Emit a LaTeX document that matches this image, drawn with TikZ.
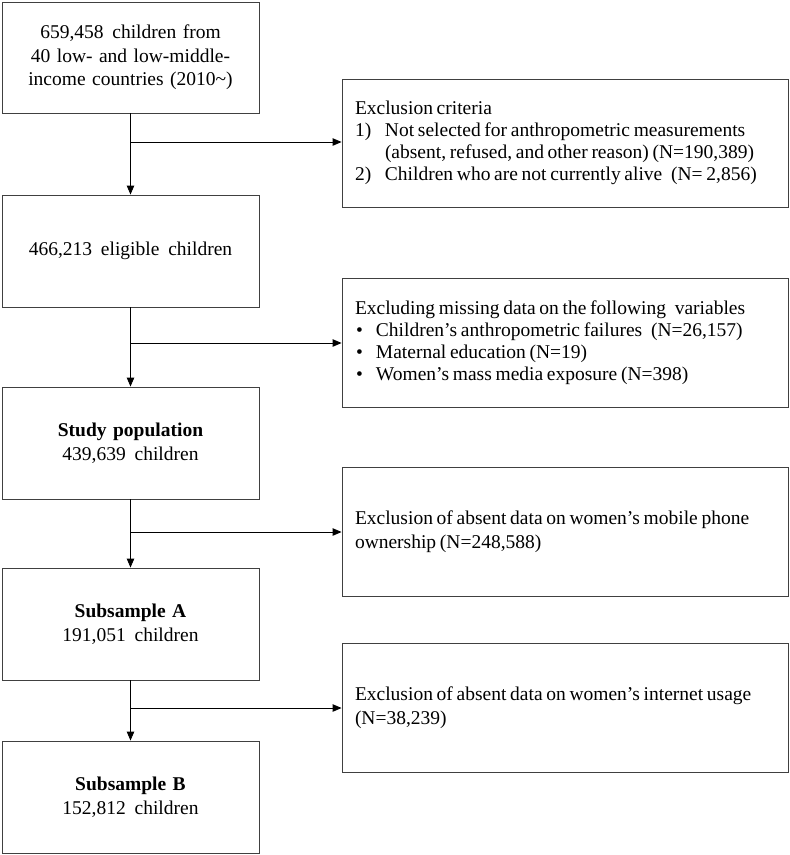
\documentclass[tikz,border=0pt]{standalone}
\usepackage{fontspec}
\setmainfont{Liberation Serif}
\usetikzlibrary{arrows.meta}
\tikzset{
  lbox/.style={draw=black!75, line width=0.9pt, minimum width=257pt, text width=240pt, inner xsep=8.5pt, inner ysep=0pt, align=center, font=\fontsize{19.5}{23.5}\selectfont},
  rbox/.style={draw=black!75, line width=0.9pt, minimum width=446pt, text width=420pt, inner xsep=13pt, inner ysep=0pt, align=left, font=\fontsize{19.5}{22}\selectfont},
  rboxb/.style={rbox, font=\fontsize{19.5}{24}\selectfont},
  arr/.style={draw=black, line width=0.9pt, -{Triangle[length=9pt,width=7.5pt]}},
}
\newcommand{\numlab}[1]{\makebox[30pt][l]{#1}}
\newcommand{\bul}{\makebox[21pt][l]{\hspace{1pt}•}}
\newcommand{\wsp}{\hspace{0.45em}}
\newcommand{\tightsp}{\spaceskip=0.19em plus 0.05em minus 0.02em\relax}
\begin{document}
\begin{tikzpicture}[x=1pt,y=-1pt]
\useasboundingbox (0,0) rectangle (790,855);
% left column
\node[lbox, minimum height=111pt] (L1) at (130.5,57.5) {659,458\wsp children from\\40 low- and low-middle-\\income countries (2010\textasciitilde)};
\node[lbox, minimum height=112pt] (L2) at (130.5,251) {466,213\wsp eligible\wsp children};
\node[lbox, minimum height=112pt, font=\fontsize{19.5}{24}\selectfont] (L3) at (130.5,443) {\textbf{Study population}\\439,639\wsp children};
\node[lbox, minimum height=112pt, font=\fontsize{19.5}{24}\selectfont] (L4) at (130.5,624) {\textbf{Subsample A}\\191,051\wsp children};
\node[lbox, minimum height=112pt, font=\fontsize{19.5}{24}\selectfont] (L5) at (130.5,797) {\textbf{Subsample B}\\152,812\wsp children};
% right column
\node[rbox, minimum height=128pt] (R1) at (565,143) {\tightsp\mbox{Exclusion criteria}\\\numlab{1)}\mbox{Not selected for anthropometric measurements}\\\hspace*{30pt}\mbox{(absent, refused, and other reason) (N=190,389)}\\\numlab{2)}\mbox{Children who are not currently alive\wsp(N= 2,856)}};
\node[rbox, minimum height=129pt] (R2) at (565,342.5) {\tightsp\mbox{Excluding missing data on the following\wsp variables}\\\bul\mbox{Children’s anthropometric failures\wsp(N=26,157)}\\\bul\mbox{Maternal education (N=19)}\\\bul\mbox{Women’s mass media exposure (N=398)}};
\node[rboxb, minimum height=129pt] (R3) at (565,531.5) {\tightsp\mbox{Exclusion of absent data on women’s mobile phone}\\\mbox{ownership (N=248,588)}};
\node[rboxb, minimum height=129pt] (R4) at (565,707.5) {\tightsp\mbox{Exclusion of absent data on women’s internet usage}\\\mbox{(N=38,239)}};
% branch points
\coordinate (b1) at (130.5,142);
\coordinate (b2) at (130.5,343);
\coordinate (b3) at (130.5,532);
\coordinate (b4) at (130.5,708);
% connectors
\draw[arr] (L1) -- (L2);
\draw[arr] (L2) -- (L3);
\draw[arr] (L3) -- (L4);
\draw[arr] (L4) -- (L5);
\draw[arr] (b1) -- (b1 -| R1.west);
\draw[arr] (b2) -- (b2 -| R2.west);
\draw[arr] (b3) -- (b3 -| R3.west);
\draw[arr] (b4) -- (b4 -| R4.west);
\end{tikzpicture}
\end{document}
